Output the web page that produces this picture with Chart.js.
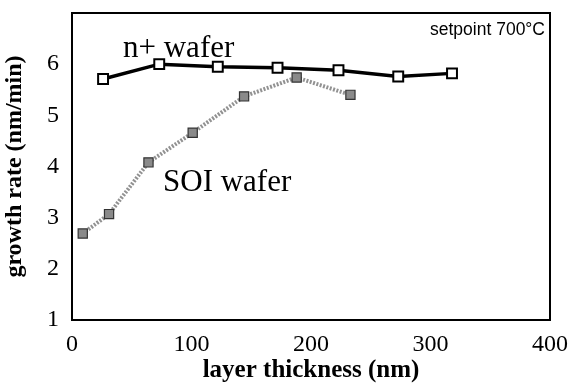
<!DOCTYPE html>
<html>
<head>
<meta charset="utf-8">
<script src="https://cdn.jsdelivr.net/npm/chart.js@4.4.0/dist/chart.umd.min.js"></script>
<style>
  html, body { margin: 0; padding: 0; background: #fff; }
  #wrap { width: 575px; height: 386px; }
</style>
</head>
<body>
<div id="wrap"><canvas id="growthChart"></canvas></div>
<script>
// data
const nplusThickness = [26, 73, 122, 172, 223, 273, 318];
const nplusRate = [5.71, 6.00, 5.95, 5.93, 5.88, 5.76, 5.82];
const soiThickness = [9, 31, 64, 101, 144, 188, 233];
const soiRate = [2.69, 3.07, 4.08, 4.66, 5.37, 5.74, 5.40];
const xTicks = [0, 100, 200, 300, 400];
const yTicks = [1, 2, 3, 4, 5, 6];

const serif = "'Liberation Serif', 'Times New Roman', serif";

function toPoints(xs, ys) {
  return xs.map((x, i) => ({ x: x, y: ys[i] }));
}

// frame round the plot + text labels
const frameAndLabels = {
  id: 'frameAndLabels',
  afterDatasetsDraw(chart) {
    const ctx = chart.ctx;
    const a = chart.chartArea;
    ctx.save();
    ctx.strokeStyle = '#000';
    ctx.lineWidth = 2;
    ctx.strokeRect(a.left, a.top, a.right - a.left, a.bottom - a.top);

    ctx.fillStyle = '#000';
    ctx.font = '31px ' + serif;
    ctx.textBaseline = 'alphabetic';
    ctx.textAlign = 'left';
    ctx.fillText('n+ wafer', 123, 57);
    ctx.fillText('SOI wafer', 163, 191);

    ctx.font = '17.5px "Liberation Sans", Arial, sans-serif';
    ctx.textAlign = 'right';
    ctx.fillText('setpoint 700\u00b0C', 545, 35);
    ctx.restore();
  }
};

new Chart(document.getElementById('growthChart').getContext('2d'), {
  type: 'scatter',
  data: {
    datasets: [{
      label: 'SOI wafer',
      data: toPoints(soiThickness, soiRate),
      showLine: true,
      borderColor: '#929292',
      borderWidth: 4,
      borderDash: [2, 1.5],
      pointStyle: 'rect',
      pointRadius: 6.5,
      pointBackgroundColor: '#8a8a8a',
      pointBorderColor: '#333',
      pointBorderWidth: 1.2
    }, {
      label: 'n+ wafer',
      data: toPoints(nplusThickness, nplusRate),
      showLine: true,
      borderColor: '#000',
      borderWidth: 3.5,
      pointStyle: 'rect',
      pointRadius: 7,
      pointBackgroundColor: '#fff',
      pointBorderColor: '#000',
      pointBorderWidth: 2
    }]
  },
  options: {
    responsive: true,
    maintainAspectRatio: false,
    animation: false,
    layout: { padding: { top: 13, right: 25, left: 0, bottom: 0 } },
    plugins: {
      legend: { display: false },
      tooltip: { enabled: false }
    },
    scales: {
      x: {
        type: 'linear',
        min: 0,
        max: 400,
        afterBuildTicks: s => { s.ticks = xTicks.map(v => ({ value: v })); },
        afterFit: s => { s.height = 66; s.paddingLeft = 0; s.paddingRight = 0; },
        grid: { display: false, drawTicks: false },
        border: { display: false },
        ticks: { font: { family: serif, size: 24 }, color: '#000', padding: 10 },
        title: {
          display: true,
          text: 'layer thickness (nm)',
          font: { family: serif, size: 25, weight: 'bold' },
          color: '#000',
          padding: { top: 0, bottom: 0 }
        }
      },
      y: {
        min: 1,
        max: 7,
        afterBuildTicks: s => { s.ticks = yTicks.map(v => ({ value: v })); },
        afterFit: s => { s.width = 72; s.paddingTop = 0; s.paddingBottom = 0; },
        grid: { display: false, drawTicks: false },
        border: { display: false },
        ticks: { font: { family: serif, size: 24 }, color: '#000', padding: 13 },
        title: {
          display: true,
          text: 'growth rate (nm/min)',
          font: { family: serif, size: 24, weight: 'bold' },
          color: '#000',
          padding: { top: 0, bottom: 4 }
        }
      }
    }
  },
  plugins: [frameAndLabels]
});
</script>
</body>
</html>
